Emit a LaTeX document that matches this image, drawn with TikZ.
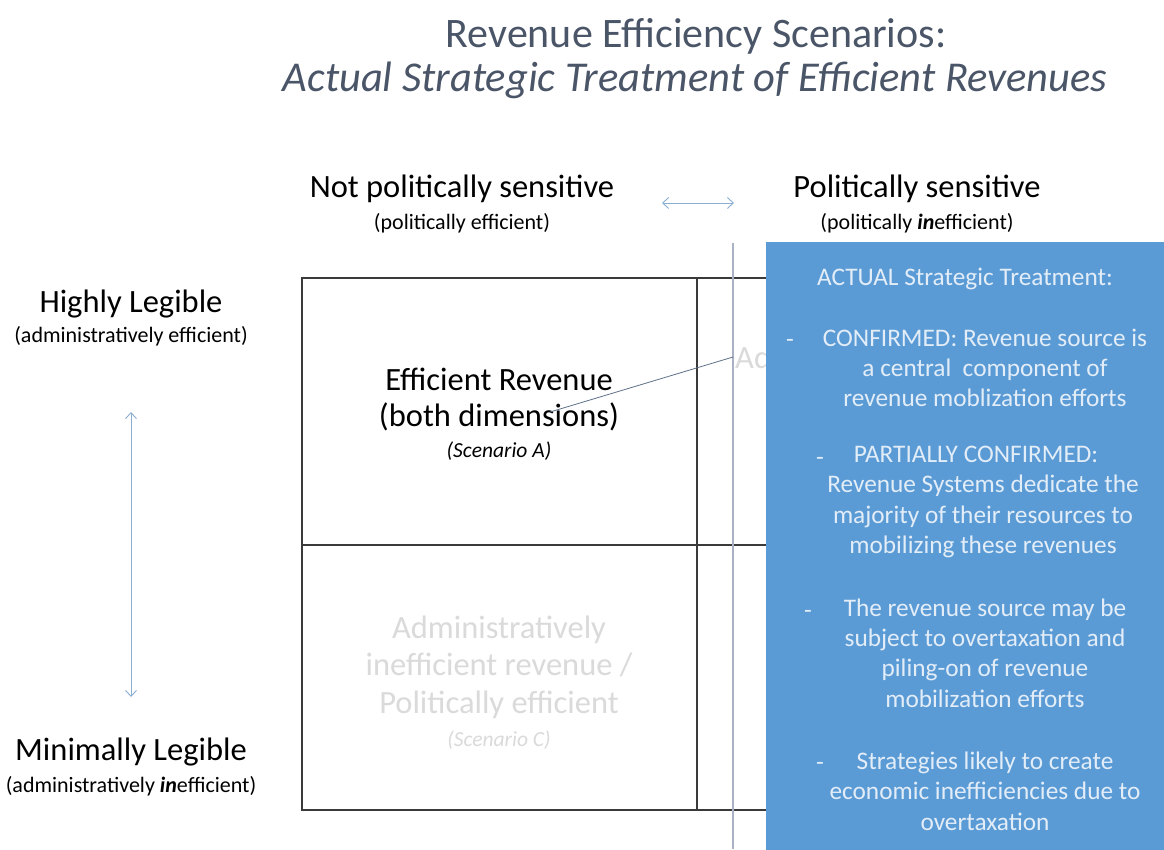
\documentclass[tikz,border=0pt]{standalone}
\usepackage{fontspec}
\setmainfont{Carlito}
\usetikzlibrary{arrows.meta}
\definecolor{titlegray}{HTML}{4A5568}
\definecolor{gridline}{HTML}{3A3A3A}
\definecolor{ghostgray}{HTML}{DADADA}
\definecolor{boxblue}{HTML}{5B9BD5}
\definecolor{boxtext}{HTML}{E2EDF8}
\definecolor{arrowblue}{HTML}{8AAED2}
\definecolor{linkgray}{HTML}{5F7189}
\definecolor{splitgray}{HTML}{A9B1C2}
\tikzset{
  heading/.style={font=\fontsize{32.5}{36}\selectfont, text=black},
  subheading/.style={font=\fontsize{22}{26}\selectfont, text=black},
  cellbig/.style={font=\fontsize{32.5}{36}\selectfont, align=center},
  cellsmall/.style={font=\fontsize{21.5}{25}\selectfont\itshape},
  ghost/.style={text=ghostgray},
  boxtxt/.style={font=\fontsize{25.3}{30.3}\selectfont, text=boxtext, align=center, inner sep=1pt},
  boxdash/.style={font=\fontsize{25.3}{30}\selectfont, text=boxtext, inner sep=0pt},
  dblarrow/.style={arrowblue, line width=0.9pt, {Straight Barb[length=6pt,width=11pt]}-{Straight Barb[length=6pt,width=11pt]}}
}
\begin{document}
\begin{tikzpicture}[x=1pt,y=-1pt]
  \useasboundingbox (0,0) rectangle (1164,849);
  \fill[white] (0,0) rectangle (1164,849);
  % title
  \node[font=\fontsize{42}{48}\selectfont, text=titlegray] (title1) at (696,36) {Revenue Efficiency Scenarios:};
  \node[font=\fontsize{42.5}{48}\selectfont\itshape, text=titlegray] (title2) at (695,80) {Actual Strategic Treatment of Efficient Revenues};
  % column headings
  \node[heading] (notsens) at (462,189) {Not politically sensitive};
  \node[subheading] (notsenssub) at (462,223) {(politically efficient)};
  \node[heading] (sens) at (917,189) {Politically sensitive};
  \node[subheading] (senssub) at (917,223) {(politically \textbf{\textit{in}}efficient)};
  \coordinate (harrowL) at (662,203);
  \coordinate (harrowR) at (734,203);
  \draw[dblarrow] (harrowL) -- (harrowR);
  % row headings
  \node[heading] (highly) at (131,304) {Highly Legible};
  \node[subheading] (highlysub) at (131,336) {(administratively efficient)};
  \node[heading] (minimally) at (131,752) {Minimally Legible};
  \node[subheading] (minimallysub) at (131,786) {(administratively \textbf{\textit{in}}efficient)};
  \coordinate (varrowT) at (131,412);
  \coordinate (varrowB) at (131,697);
  \draw[dblarrow] (varrowT) -- (varrowB);
  % grid
  \draw[gridline, line width=1.2pt] (766,278) -- (302,278) -- (302,810) -- (766,810);
  \draw[gridline, line width=1.2pt] (302,545) -- (766,545);
  \draw[gridline, line width=1.2pt] (697,278) -- (697,810);
  % scenario A
  \node[cellbig] (effrev) at (499,400) {Efficient Revenue\\(both dimensions)};
  \node[cellsmall] (scenA) at (499,451) {(Scenario A)};
  % scenario C (faded)
  \node[cellbig, ghost, font=\fontsize{32.5}{37.5}\selectfont] (scenCtext) at (499,667)
    {Administratively\\inefficient revenue /\\Politically efficient};
  \node[cellsmall, ghost] (scenC) at (499,740) {(Scenario C)};
  % scenario B (faded, mostly under the box)
  \node[ghost, font=\fontsize{32.5}{36}\selectfont, anchor=west, inner sep=0pt] (scenBtext) at (735,357) {Ad};
  % split line and link
  \coordinate (splitT) at (733,243);
  \coordinate (splitB) at (733,849);
  \draw[splitgray, line width=1.1pt] (splitT) -- (splitB);
  \coordinate (linkA) at (550,412);
  \coordinate (linkB) at (733,357);
  \draw[linkgray, line width=0.8pt] (linkA) -- (linkB);
  % strategic treatment box
  \filldraw[boxblue] (766,242) rectangle (1164,849);
  \node[boxtxt] (actual) at (965,279) {ACTUAL Strategic Treatment:};
  \node[boxtxt] (conf) at (985,368) {CONFIRMED: Revenue source is\\a central\ \ component of\\revenue moblization efforts};
  \node[boxdash] (dashA) at (790,343) {-};
  \node[boxtxt] (partconf) at (983,502) {\hspace*{-14pt}PARTIALLY CONFIRMED:\\Revenue Systems dedicate the\\majority of their resources to\\mobilizing these revenues};
  \node[boxdash] (dashB) at (820,461) {-};
  \node[boxtxt] (overtax) at (985,653) {The revenue source may be\\subject to overtaxation and\\piling-on of revenue\\mobilization efforts};
  \node[boxdash] (dashC) at (808,614) {-};
  \node[boxtxt] (econ) at (985,791) {Strategies likely to create\\economic inefficiencies due to\\overtaxation};
  \node[boxdash] (dashD) at (820,766) {-};
\end{tikzpicture}
\end{document}
